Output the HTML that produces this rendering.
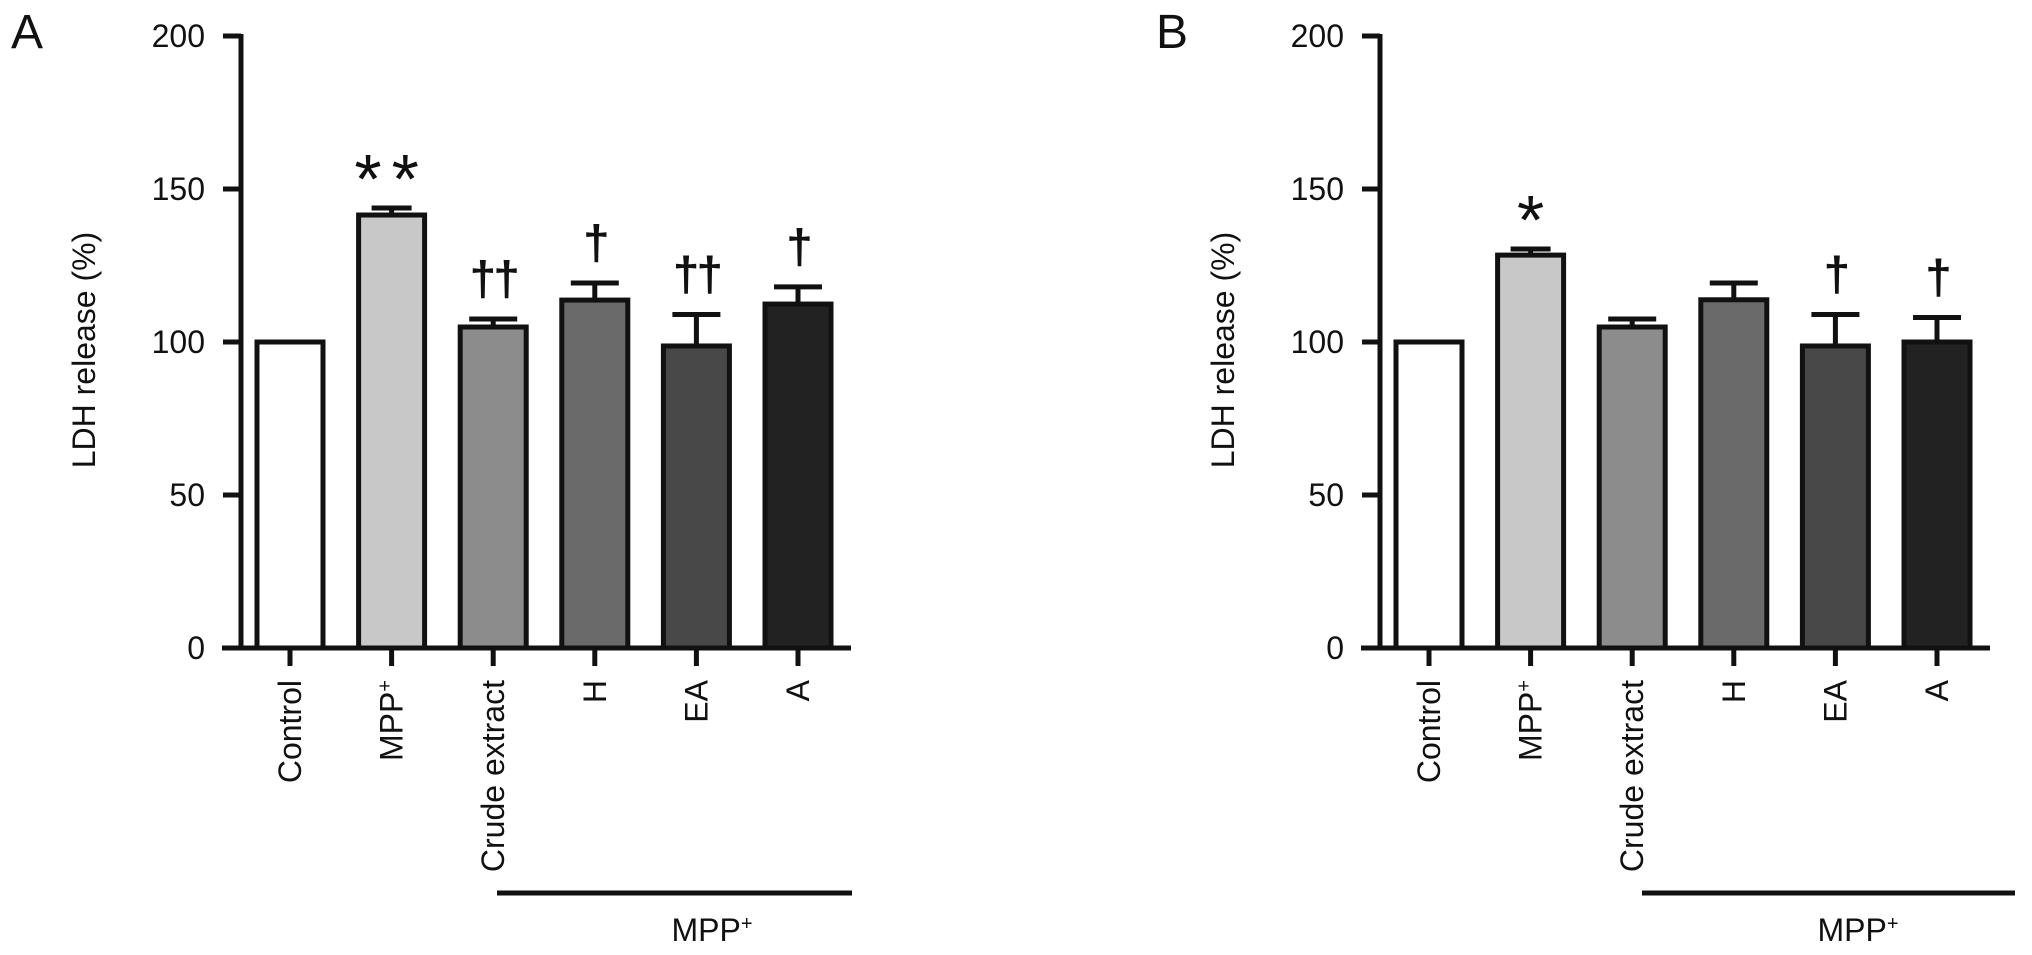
<!DOCTYPE html>
<html><head><meta charset="utf-8"><style>
html,body{margin:0;padding:0;background:#fff}
svg{display:block}
text{font-family:"Liberation Sans",Arial,sans-serif;fill:#111}
</style></head><body>
<svg id="chart" width="2032" height="955" viewBox="0 0 2032 955" xmlns="http://www.w3.org/2000/svg"></svg>
<script>
const categories = ["Control","MPP+","Crude extract","H","EA","A"];
const colors = ["#ffffff","#c8c8c8","#8c8c8c","#6a6a6a","#484848","#222222"];
const valuesA = [100,141.5,104.9,113.7,98.7,112.4];
const errorsA = [0,2.3,2.6,5.6,10.3,5.6];
const marksA = ["","**","††","†","††","†"];
const valuesB = [100,128.4,104.9,113.8,98.7,100];
const errorsB = [0,2.0,2.6,5.5,10.3,8.0];
const marksB = ["","*","","","†","†"];
const yTicks = [0,50,100,150,200];

const NS="http://www.w3.org/2000/svg";
const svg=document.getElementById('chart');
function mk(tag,attrs,parent){const e=document.createElementNS(NS,tag);for(const k in attrs)e.setAttribute(k,attrs[k]);(parent||svg).appendChild(e);return e;}
const y0=648, pxPerUnit=3.06;
function yScale(v){return y0-v*pxPerUnit;}

function panel(id,axisX,letter,values,errors,marks,lineX1,lineX2,mppX){
  const g=mk('g',{});
  
  
  function xScale(i){return axisX+49+i*101.6;}
  const lt=mk('text',{x:id==='a'?11:1156,y:48,'font-size':48},g);
  lt.textContent=letter;
  
  
  values.forEach((v,i)=>{
    const cx=xScale(i), w=66;
    const top=yScale(v+errors[i]);
    if(errors[i]>0){
      const el=mk('line',{x1:cx,x2:cx,y1:yScale(v),y2:top,stroke:'#111','stroke-width':5},g);
      
      
      const cw=i===1?40:48;
      const cap=mk('line',{x1:cx-cw/2,x2:cx+cw/2,y1:top,y2:top,stroke:'#111','stroke-width':5},g);
      
      
    }
    const r=mk('rect',{x:cx-w/2,y:yScale(v),width:w,height:y0-yScale(v),fill:colors[i],stroke:'#111','stroke-width':5},g);
    
    
    if(marks[i]){
      const isStar=marks[i].indexOf('*')>=0;
      const t=mk('text',{x:cx,'text-anchor':'middle'},g);
      if(isStar){t.setAttribute('font-size',70);t.setAttribute('y',top-5);t.setAttribute('letter-spacing',marks[i].length>1?10:0);}
      else{t.setAttribute('font-size',48);t.setAttribute('y',top-24);t.setAttribute('letter-spacing',-3);t.setAttribute('font-weight','bold');}
      t.textContent=marks[i];
      
      
    }
    const tk=mk('line',{x1:cx,x2:cx,y1:y0,y2:666,stroke:'#111','stroke-width':5},g);
    
    
    const lab=mk('text',{x:0,y:0,'font-size':32,'text-anchor':'end',transform:`translate(${cx+11},680) rotate(-90)`},g);
    if(categories[i]==="MPP+"){lab.innerHTML='MPP<tspan font-size="20" dy="-11">+</tspan>';}
    else lab.textContent=categories[i];
    
    
  });
  const ya=mk('line',{x1:axisX,x2:axisX,y1:34,y2:650,stroke:'#111','stroke-width':5},g);
  
  
  const xa=mk('line',{x1:axisX-19,x2:axisX+610,y1:y0,y2:y0,stroke:'#111','stroke-width':5},g);
  
  
  yTicks.forEach(t=>{
    const l=mk('line',{x1:axisX-18,x2:axisX,y1:yScale(t),y2:yScale(t),stroke:'#111','stroke-width':5},g);
    
    
    const tx=mk('text',{x:axisX-36,y:yScale(t)+11,'font-size':32,'text-anchor':'end'},g);
    tx.textContent=t;
    
    
  });
  const yt=mk('text',{x:0,y:0,'font-size':32,'text-anchor':'middle',transform:`translate(${axisX-146},350) rotate(-90)`},g);
  yt.textContent='LDH release (%)';
  
  
  const bl=mk('line',{x1:lineX1,x2:lineX2,y1:893,y2:893,stroke:'#111','stroke-width':5},g);
  
  
  const mt=mk('text',{x:mppX,y:941,'font-size':32,'text-anchor':'middle'},g);
  mt.innerHTML='MPP<tspan font-size="20" dy="-11">+</tspan>';
  
  
}
panel('a',241,'A',valuesA,errorsA,marksA,497,852,712);
panel('b',1380,'B',valuesB,errorsB,marksB,1642,2015,1858);
</script>
</body></html>
